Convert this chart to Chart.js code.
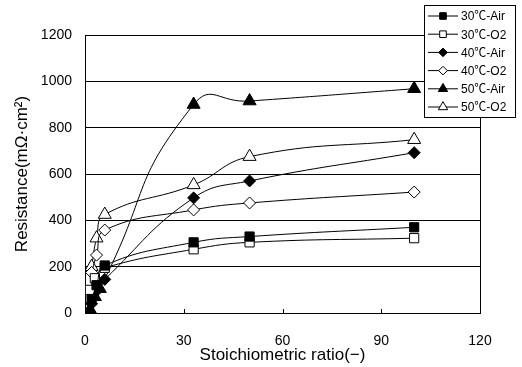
<!DOCTYPE html>
<html>
<head>
<meta charset="utf-8">
<script src="https://cdn.jsdelivr.net/npm/chart.js@4"></script>
<style>
  html, body { margin: 0; padding: 0; background: #fff; }
  #wrap { width: 522px; height: 367px; }
</style>
</head>
<body>
<div id="wrap"><canvas id="resChart" width="522" height="367"></canvas></div>
<script>
// stoichiometric ratio (x) and resistance (y) for each condition
const air30X = [2, 3.5, 6, 33, 50, 100];
const air30Y = [60, 120, 205, 305, 330, 370];
const o230X = [1.5, 3, 6, 33, 50, 100];
const o230Y = [100, 150, 195, 275, 305, 323];
const air40X = [2, 3.5, 6, 33, 50, 100];
const air40Y = [40, 95, 145, 497, 570, 692];
const o240X = [2, 3.5, 6, 33, 50, 100];
const o240Y = [175, 250, 358, 445, 475, 522];
const air50X = [1.5, 3, 4.5, 33, 50, 100];
const air50Y = [15, 70, 105, 900, 915, 968];
const o250X = [2, 3.5, 6, 33, 50, 100];
const o250Y = [200, 323, 425, 553, 675, 748];

const seriesLabels = ['30℃-Air', '30℃-O2', '40℃-Air', '40℃-O2', '50℃-Air', '50℃-O2'];
const xTicks = [0, 30, 60, 90, 120];
const yTicks = [0, 200, 400, 600, 800, 1000, 1200];

const FONT = "'Liberation Sans', 'Noto Sans CJK JP', sans-serif";

function toPoints(xs, ys) {
    return xs.map((x, i) => ({ x: x, y: ys[i] }));
}

function makeSet(label, xs, ys, style, filled, radius, tension) {
    return {
        label: label,
        data: toPoints(xs, ys),
        borderColor: '#000',
        borderWidth: 1,
        tension: tension || 0.45,
        pointStyle: style,
        pointRadius: radius,
        pointHoverRadius: radius,
        pointBorderColor: '#000',
        pointBorderWidth: 1,
        pointBackgroundColor: filled ? '#000' : '#fff'
    };
}

const datasets = [
    makeSet(seriesLabels[0], air30X, air30Y, 'rect', true, 6.5),
    makeSet(seriesLabels[1], o230X, o230Y, 'rect', false, 6.5),
    makeSet(seriesLabels[2], air40X, air40Y, 'rectRot', true, 6),
    makeSet(seriesLabels[3], o240X, o240Y, 'rectRot', false, 6),
    makeSet(seriesLabels[4], air50X, air50Y, 'triangle', true, 7.5, 0.55),
    makeSet(seriesLabels[5], o250X, o250Y, 'triangle', false, 7.5)
];

// frame around the plot, small inward ticks on the x axis
const framePlugin = {
    id: 'frame',
    beforeDatasetsDraw(chart) {
        const { ctx, chartArea: a, scales } = chart;
        ctx.save();
        ctx.strokeStyle = '#000';
        ctx.lineWidth = 1;
        ctx.strokeRect(a.left + 0.5, a.top + 0.5, a.right - a.left, a.bottom - a.top);
        ctx.beginPath();
        xTicks.slice(1, -1).forEach(v => {
            const px = Math.round(scales.x.getPixelForValue(v)) + 0.5;
            ctx.moveTo(px, a.bottom);
            ctx.lineTo(px, a.bottom - 4);
        });
        ctx.stroke();
        ctx.restore();
    }
};

// boxed legend with line + marker samples, top right
const legendPlugin = {
    id: 'boxLegend',
    afterDraw(chart) {
        const ctx = chart.ctx;
        const left = 424, top = 5, w = 91, h = 112;
        ctx.save();
        ctx.fillStyle = '#fff';
        ctx.fillRect(left, top, w, h);
        ctx.strokeStyle = '#000';
        ctx.lineWidth = 1;
        ctx.strokeRect(left + 0.5, top + 0.5, w, h);
        chart.data.datasets.forEach((ds, i) => {
            const y = top + 11 + i * 18.2;
            ctx.beginPath();
            ctx.moveTo(left + 4, y);
            ctx.lineTo(left + 34, y);
            ctx.strokeStyle = '#000';
            ctx.stroke();
            ctx.fillStyle = ds.pointBackgroundColor;
            ctx.strokeStyle = '#000';
            Chart.helpers.drawPoint(ctx, {
                pointStyle: ds.pointStyle,
                radius: ds.pointRadius * 0.72,
                rotation: 0,
                borderWidth: 1
            }, left + 19, y);
            ctx.fillStyle = '#000';
            ctx.font = '12px ' + FONT;
            ctx.textBaseline = 'middle';
            ctx.fillText(ds.label, left + 37, y + 1);
        });
        ctx.restore();
    }
};

new Chart('resChart', {
    type: 'line',
    data: { datasets: datasets },
    options: {
        responsive: false,
        animation: false,
        layout: { padding: { top: 35, right: 42, left: 0, bottom: 0 } },
        plugins: {
            legend: { display: false },
            tooltip: { enabled: false }
        },
        scales: {
            x: {
                type: 'linear',
                min: 0,
                max: 120,
                afterBuildTicks: s => { s.ticks = xTicks.map(v => ({ value: v })); },
                afterFit: s => { s.height = 54; },
                grid: { display: false, drawTicks: false },
                border: { display: false },
                ticks: {
                    color: '#000',
                    font: { family: FONT, size: 14 },
                    padding: 20,
                    callback: v => String(v)
                },
                title: {
                    display: true,
                    text: 'Stoichiometric ratio(−)',
                    color: '#000',
                    font: { family: FONT, size: 17 },
                    padding: { top: 0, bottom: 1 }
                }
            },
            y: {
                min: 0,
                max: 1200,
                afterBuildTicks: s => { s.ticks = yTicks.map(v => ({ value: v })); },
                afterFit: s => { s.width = 85; },
                grid: { color: '#000', lineWidth: 1, drawTicks: false },
                border: { display: false },
                ticks: {
                    color: '#000',
                    font: { family: FONT, size: 14 },
                    padding: 13,
                    callback: v => String(v)
                },
                title: {
                    display: true,
                    text: 'Resistance(mΩ·cm²)',
                    color: '#000',
                    font: { family: FONT, size: 17 },
                    padding: { top: 12, bottom: 0 }
                }
            }
        }
    },
    plugins: [framePlugin, legendPlugin]
});
</script>
</body>
</html>
